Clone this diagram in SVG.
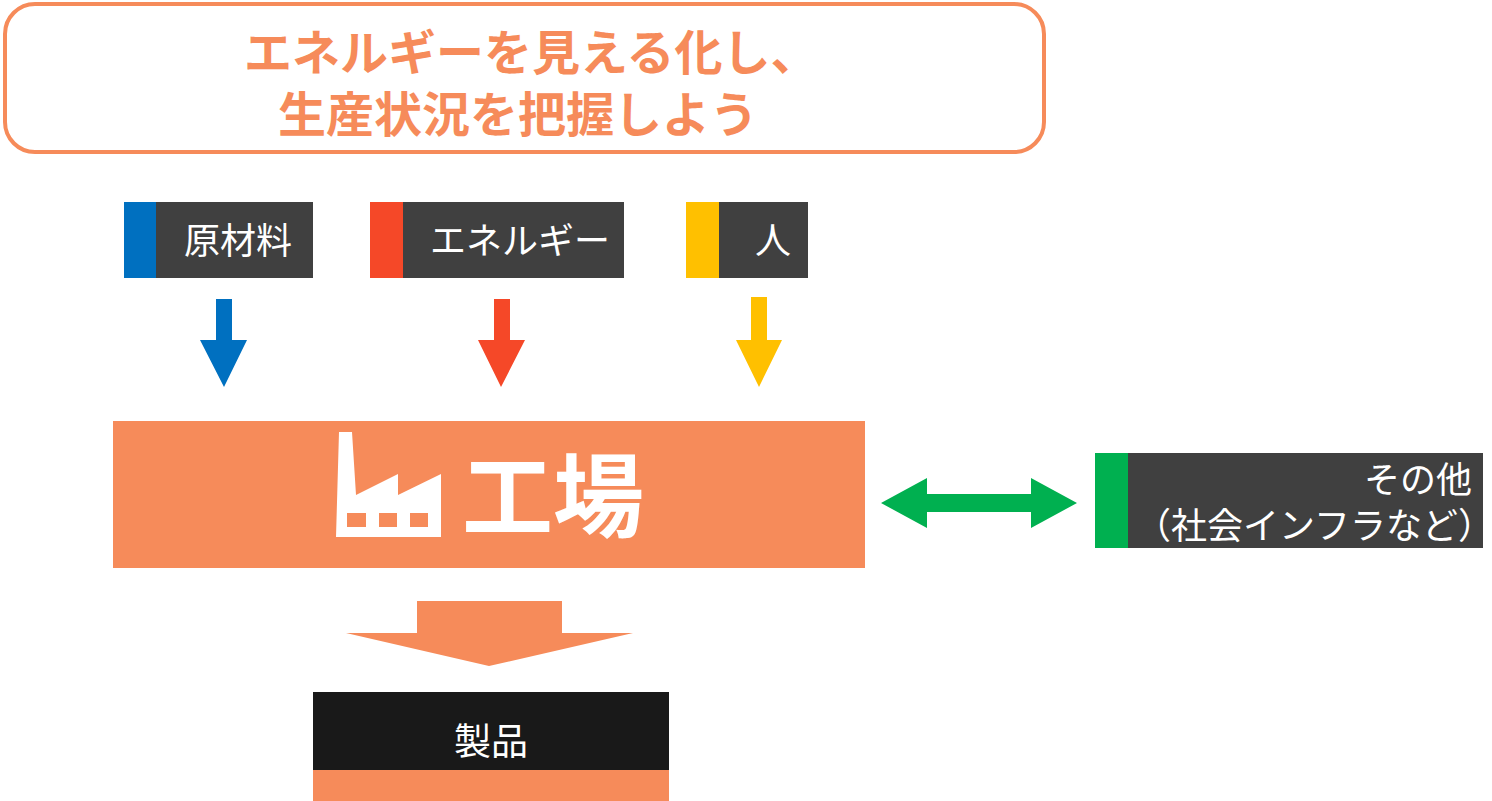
<svg xmlns="http://www.w3.org/2000/svg" width="1492" height="801" viewBox="0 0 1492 801">
<style>
.cjk{font-family:"Noto Sans CJK JP","Noto Sans CJK SC",sans-serif;}
.title{font-size:48px;font-weight:700;fill:#F68B5A;}
.tag{font-size:36px;fill:#FFFFFF;}
.dark{fill:#404040;}
</style>
<rect width="1492" height="801" fill="#FFFFFF"/>
<g id="title">
<rect x="5" y="4" width="1039" height="148" rx="30" ry="30" fill="#FFFFFF" stroke="#F68B5A" stroke-width="4"/>
<text class="cjk title" x="244" y="70">エネルギーを見える化し、</text>
<text class="cjk title" x="278" y="132">生産状況を把握しよう</text>
</g>
<g id="raw">
<rect x="124" y="202" width="33" height="76" fill="#0070C0"/>
<rect class="dark" x="156" y="202" width="157" height="76"/>
<text class="cjk tag" x="184" y="254">原材料</text>
</g>
<g id="energy">
<rect x="370" y="202" width="34" height="76" fill="#F54828"/>
<rect class="dark" x="403" y="202" width="221" height="76"/>
<text class="cjk tag" x="430" y="254">エネルギー</text>
</g>
<g id="people">
<rect x="686" y="202" width="34" height="76" fill="#FFC000"/>
<rect class="dark" x="719" y="202" width="89" height="76"/>
<text class="cjk tag" x="755" y="254">人</text>
</g>
<g id="factory">
<rect x="113" y="421" width="752" height="147" fill="#F68B5A"/>
<path d="M339 432 L352 432 L356 495 L398 474 L398 495 L441 474 L441 537 L336 537 Z" fill="#FFFFFF"/>
<rect x="347" y="513" width="19" height="14" fill="#F68B5A"/>
<rect x="379" y="513" width="18" height="14" fill="#F68B5A"/>
<rect x="410" y="513" width="18" height="14" fill="#F68B5A"/>
<text class="cjk" x="462" y="530" font-size="91" font-weight="700" fill="#FFFFFF">工場</text>
</g>
<g id="other">
<rect x="1095" y="453" width="34" height="95" fill="#00B050"/>
<rect class="dark" x="1128" y="453" width="355" height="95"/>
<text class="cjk" x="1472" y="493" font-size="36" fill="#FFFFFF" text-anchor="end">その他</text>
<text class="cjk" x="1494" y="539" font-size="36" fill="#FFFFFF" text-anchor="end">（社会インフラなど）</text>
</g>
<g id="product">
<rect x="313" y="692" width="356" height="78" fill="#191919"/>
<rect x="313" y="770" width="356" height="31" fill="#F68B5A"/>
<text class="cjk" x="491" y="755" font-size="37" fill="#FFFFFF" text-anchor="middle">製品</text>
</g>
<g id="connectors">
<path d="M216 299 H232 V340 H247 L224 387 L200 340 H216 Z" fill="#0070C0"/>
<path d="M494 299 H510 V340 H525 L501 387 L478 340 H494 Z" fill="#F54828"/>
<path d="M751 297 H767 V340 H782 L759 387 L736 340 H751 Z" fill="#FFC000"/>
<path d="M881 503 L927 478 V494 H1031 V478 L1077 503 L1031 528 V512 H927 V528 Z" fill="#00B050"/>
<path d="M417 601 H562 V633 H633 L489 666 L346 633 H417 Z" fill="#F68B5A"/>
</g>
</svg>
